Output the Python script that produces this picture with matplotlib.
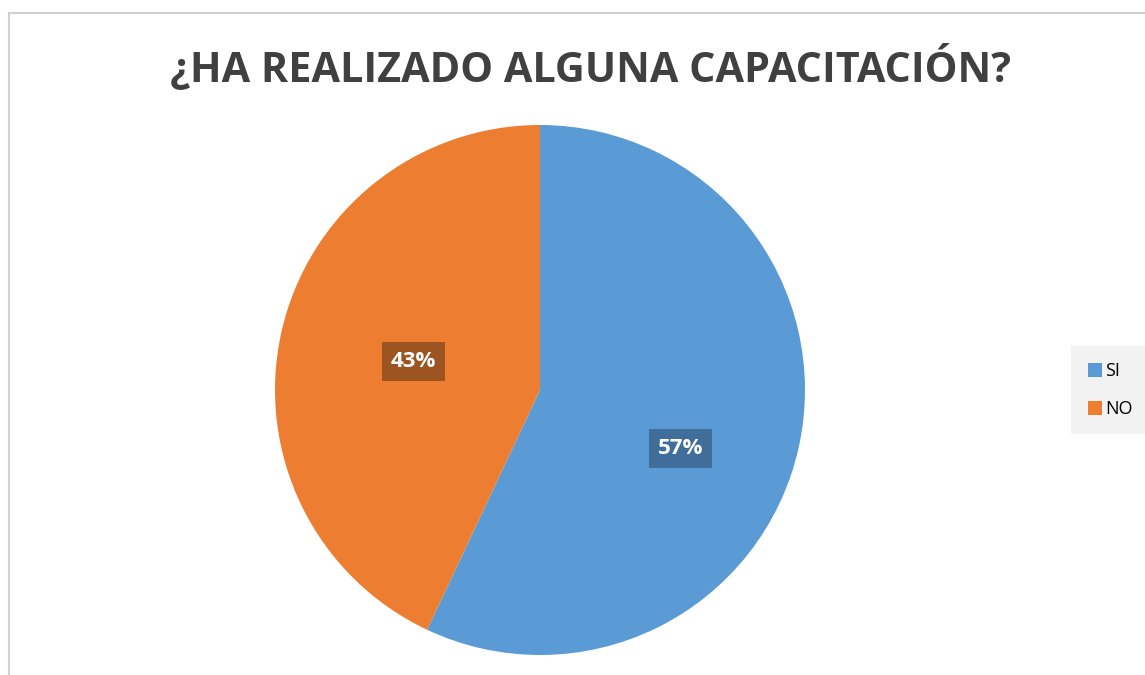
import numpy as np
import matplotlib
matplotlib.use('Agg')
import matplotlib.pyplot as plt
from matplotlib.patches import Rectangle

# data
labels = ['SI', 'NO']
values = [57, 43]
colors = ['#5B9BD5', '#ED7D31']
box_colors = ['#3d6994', '#93501f']
title = '¿HA REALIZADO ALGUNA CAPACITACIÓN?'

W, H = 1145, 675
fig = plt.figure(figsize=(W / 100., H / 100.), dpi=100)
fig.patch.set_facecolor('white')

# thin gray frame (left and top edges visible)
fig.patches.append(Rectangle((9. / W, -0.1), 1.2, (H - 13.) / H + 0.1,
                             transform=fig.transFigure, fill=False,
                             edgecolor='#d0d0d0', lw=1.5))

cx, cy, r = 540., 285., 265.
ax = fig.add_axes([(cx - r) / W, (cy - r) / H, 2 * r / W, 2 * r / H])
wedges, _ = ax.pie(values, colors=colors, startangle=90, counterclock=False,
                   radius=1.0, wedgeprops=dict(linewidth=0))
ax.set_xlim(-1, 1)
ax.set_ylim(-1, 1)
ax.set_aspect('equal')
ax.axis('off')

# data labels (Excel places them near the wedge middle)
shift = [-10, 0]
dist = [0.575, 0.49]
for w, v, bc, s, d in zip(wedges, values, box_colors, shift, dist):
    ang = np.deg2rad((w.theta1 + w.theta2) / 2. + s)
    ax.text(d * np.cos(ang), d * np.sin(ang), '%d%%' % v, ha='center', va='center',
            color='white', fontsize=16, fontweight='bold', family='Open Sans',
            bbox=dict(boxstyle='square,pad=0.4', facecolor=bc, edgecolor='none', alpha=0.9))

fig.text(590. / W, 1 - 68. / H, title, ha='center', va='center',
         fontsize=29.8, fontweight='bold', color='#404040', family='Open Sans')

leg = fig.legend(wedges, labels, loc='center', bbox_to_anchor=(1110. / W, 1 - 390. / H),
                 frameon=True, facecolor='#f2f2f2', edgecolor='none', fancybox=False,
                 handlelength=0.8, handleheight=0.8, handletextpad=0.15,
                 labelspacing=1.1, borderpad=0.9, prop={'family': 'Open Sans', 'size': 13})
leg.get_frame().set_alpha(1)

plt.savefig('out.png', dpi=100)
plt.close('all')
